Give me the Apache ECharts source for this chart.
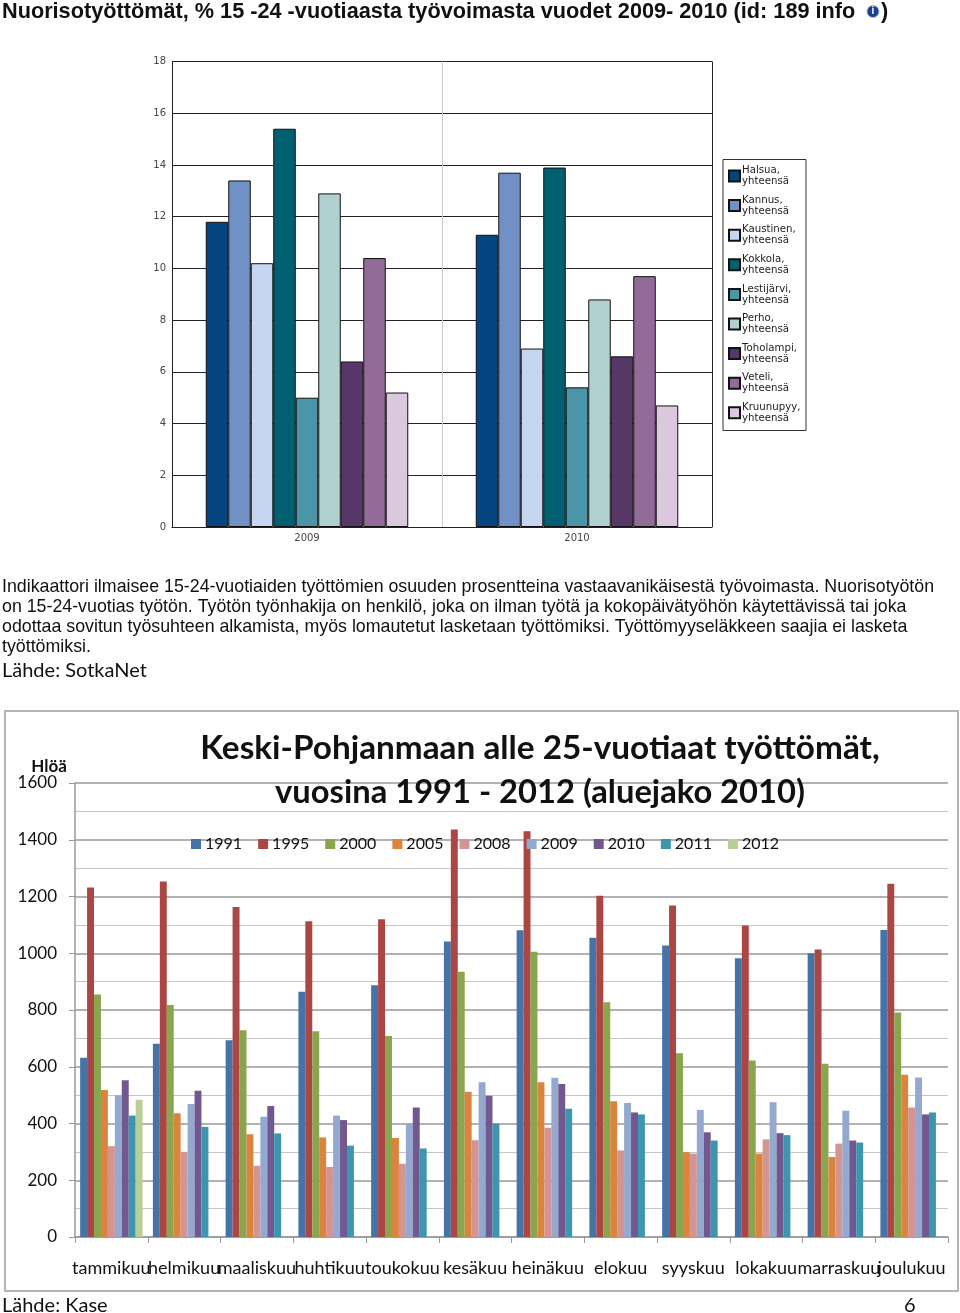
<!DOCTYPE html>
<html><head><meta charset="utf-8">
<style>html,body{margin:0;padding:0;background:#fff}#c{width:960px;height:1313px}</style>
<script src="https://cdn.jsdelivr.net/npm/echarts@6/dist/echarts.min.js"></script>
</head><body><div id="c"></div>
<script>
const years2 = ['2009','2010'];
const topNames = ['Halsua,\nyhteensä','Kannus,\nyhteensä','Kaustinen,\nyhteensä','Kokkola,\nyhteensä','Lestijärvi,\nyhteensä','Perho,\nyhteensä','Toholampi,\nyhteensä','Veteli,\nyhteensä','Kruunupyy,\nyhteensä'];
const halsua=[11.8,11.3], kannus=[13.4,13.7], kaustinen=[10.2,6.9], kokkola=[15.4,13.9], lestijarvi=[5.0,5.4], perho=[12.9,8.8], toholampi=[6.4,6.6], veteli=[10.4,9.7], kruunupyy=[5.2,4.7];
const topValues=[halsua,kannus,kaustinen,kokkola,lestijarvi,perho,toholampi,veteli,kruunupyy];
const topColors=['#03467f','#7190c6','#c7d6f0','#015f70','#4a95a8','#b1d0d0','#573767','#926b99','#dbc7de'];

const months=['tammikuu','helmikuu','maaliskuu','huhtikuu','toukokuu','kesäkuu','heinäkuu','elokuu','syyskuu','lokakuu','marraskuu','joulukuu'];
const yearNames=['1991','1995','2000','2005','2008','2009','2010','2011','2012'];
const y1991=[632,681,693,864,887,1041,1081,1055,1027,982,1000,1082];
const y1995=[1232,1253,1163,1113,1120,1436,1430,1203,1168,1098,1013,1245];
const y2000=[855,818,729,725,708,935,1005,827,648,622,611,791];
const y2005=[518,436,362,351,349,512,545,478,299,294,282,572];
const y2008=[320,300,251,247,258,341,385,305,294,344,329,456];
const y2009=[500,469,424,428,400,545,561,472,448,475,445,562];
const y2010=[552,515,462,412,456,498,539,439,369,366,340,432];
const y2011=[428,388,365,322,312,400,452,432,340,359,333,439];
const y2012=[484,null,null,null,null,null,null,null,null,null,null,null];
const bottomValues=[y1991,y1995,y2000,y2005,y2008,y2009,y2010,y2011,y2012];
const bottomColors=['#4572a7','#aa4643','#89a54e','#db843d','#d49491','#94a9d0','#71588f','#3d96ae','#b9cd96'];

const para=['Indikaattori ilmaisee 15-24-vuotiaiden työttömien osuuden prosentteina vastaavanikäisestä työvoimasta. Nuorisotyötön',
'on 15-24-vuotias työtön. Työtön työnhakija on henkilö, joka on ilman työtä ja kokopäivätyöhön käytettävissä tai joka',
'odottaa sovitun työsuhteen alkamista, myös lomautetut lasketaan työttömiksi. Työttömyyseläkkeen saajia ei lasketa',
'työttömiksi.'];

const sans='"Liberation Sans"', lato='Lato', small='"DejaVu Sans"';
function txt(x,y,text,font,extra){return {type:'text',x,y,z:20,style:Object.assign({text,font,fill:'#111',textVerticalAlign:'middle'},extra||{})};}

const chart=echarts.init(document.getElementById('c'),null,{renderer:'canvas'});
const series=[];
topValues.forEach((v,i)=>series.push({name:topNames[i],type:'bar',xAxisIndex:0,yAxisIndex:0,data:v,barWidth:22.5,barGap:0,animation:false,
  itemStyle:{color:topColors[i],borderColor:'#111',borderWidth:1}}));
bottomValues.forEach((v,i)=>series.push({name:yearNames[i],type:'bar',xAxisIndex:1,yAxisIndex:1,data:v,barWidth:6.94,barGap:0,animation:false,
  itemStyle:{color:bottomColors[i]}}));

const graphics=[
  txt(2,12,'Nuorisotyöttömät, % 15 -24 -vuotiaasta työvoimasta vuodet 2009- 2010 (id: 189 info',`bold 21.7px ${sans}`),
  txt(881,12,')',`bold 21.7px ${sans}`),
  {type:'circle',z:20,shape:{cx:873,cy:11.5,r:6},style:{fill:'#1d3f8f',stroke:'#9db3d8',lineWidth:1}},
  txt(873,11.5,'i',`bold 10px ${sans}`,{fill:'#fff',textAlign:'center'}),
  ...para.map((t,i)=>txt(2,587+i*20.1,t,`17.8px ${sans}`)),
  txt(2,671,'Lähde: SotkaNet',`20px ${lato}`),
  {type:'rect',z:1,shape:{x:5,y:711,width:953,height:580},style:{fill:'none',stroke:'#b5b5b5',lineWidth:2}},
  {type:'rect',z:1,shape:{x:723,y:159.5,width:83,height:271},style:{fill:'#fff',stroke:'#333',lineWidth:1}},
  txt(540,748,'Keski-Pohjanmaan alle 25-vuotiaat työttömät,',`bold 33.3px ${lato}`,{textAlign:'center'}),
  txt(540,792,'vuosina 1991 - 2012 (aluejako 2010)',`bold 32.7px ${lato}`,{textAlign:'center'}),
  txt(49,767,'Hlöä',`bold 17px ${lato}`,{textAlign:'center'}),
  txt(2,1306,'Lähde: Kase',`20px ${lato}`),
  txt(904,1306,'6',`20px ${lato}`),
];

chart.setOption({
  animation:false,
  textStyle:{fontFamily:lato},
  grid:[
    {left:172,top:61.5,width:540,height:465.5},
    {left:75,top:783,width:873,height:454}
  ],
  xAxis:[
    {type:'category',gridIndex:0,data:years2,axisTick:{show:false},
      axisLine:{lineStyle:{color:'#222',width:1}},
      axisLabel:{color:'#444',fontFamily:small,fontSize:10,margin:6,interval:0},
      splitLine:{show:true,interval:0,lineStyle:{color:['#222','#ccc'],width:1}}},
    {type:'category',gridIndex:1,data:months,
      axisTick:{show:true,length:6,lineStyle:{color:'#999'}},
      axisLine:{lineStyle:{color:'#999',width:1.5}},
      axisLabel:{color:'#111',fontFamily:lato,fontSize:18,margin:22,interval:0},
      splitLine:{show:false}}
  ],
  yAxis:[
    {type:'value',gridIndex:0,min:0,max:18,interval:2,
      axisLine:{show:true,lineStyle:{color:'#222'}},axisTick:{show:false},
      axisLabel:{color:'#444',fontFamily:small,fontSize:10,margin:6,padding:[2,0,0,0]},
      splitLine:{show:true,lineStyle:{color:'#222',width:1}}},
    {type:'value',gridIndex:1,min:0,max:1600,interval:200,
      axisLine:{show:true,lineStyle:{color:'#999',width:1.5}},
      axisTick:{show:true,length:6,lineStyle:{color:'#999'}},
      axisLabel:{color:'#111',fontFamily:lato,fontSize:17,margin:18,padding:[2,0,0,0],formatter:v=>String(v)},
      splitLine:{show:true,lineStyle:{color:'#999',width:1.5}},
      minorTick:{show:false,splitNumber:2},
      minorSplitLine:{show:true,lineStyle:{color:'#c6c6c6',width:1}}}
  ],
  legend:[
    {data:topNames,orient:'vertical',left:728,top:165,icon:'rect',itemWidth:11,itemHeight:11,itemGap:7.6,padding:0,z:10,
      textStyle:{fontFamily:small,fontSize:10.2,lineHeight:11,color:'#222',padding:[0,0,0,-3]}},
    {data:yearNames,orient:'horizontal',left:191,top:836,icon:'rect',itemWidth:10,itemHeight:10,itemGap:16,padding:0,z:10,
      textStyle:{fontFamily:lato,fontSize:16,color:'#111',padding:[0,0,0,-1]},selectedMode:false}
  ],
  tooltip:{show:false},
  series,
  graphic:graphics
});
</script></body></html>
